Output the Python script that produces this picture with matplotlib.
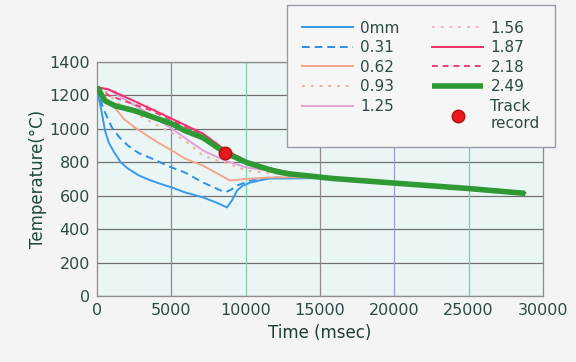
"""
Cooling curves for different thicknesses, with the track record point.
"""
import matplotlib

matplotlib.use("Agg")
import matplotlib.pyplot as plt

# --- data (time in msec, temperature in degC) ---
t_0mm = [0, 70, 336, 540, 800, 1210, 1600, 2085, 2800, 3500, 4300, 5045, 5920,
         7130, 8000, 8740, 9080, 9420, 9800, 10290, 11000, 11640, 13000, 15000,
         20000, 25000, 28800]
T_0mm = [1250, 1210, 1090, 989, 915, 852, 800, 762, 722, 695, 670, 649, 620,
         590, 560, 530, 572, 631, 660, 678, 693, 703, 703, 706, 672, 640, 612]

t_031 = [0, 400, 1010, 1500, 2085, 2800, 3700, 5045, 5920, 7130, 8610, 9000,
         9420, 10300, 11640, 13000, 15000, 20000, 25000, 28800]
T_031 = [1250, 1126, 1007, 950, 900, 855, 822, 768, 739, 679, 620, 635,
         661, 690, 709, 708, 707, 673, 641, 613]

t_062 = [0, 500, 1210, 1800, 2556, 3900, 5045, 5920, 7130, 8950, 10000, 11640,
         13000, 15000, 20000, 25000, 28800]
T_062 = [1250, 1190, 1126, 1060, 1007, 929, 870, 822, 780, 691, 700, 709,
         710, 708, 674, 642, 614]

t_093 = [0, 600, 1500, 3230, 5045, 5920, 7130, 8740, 10090, 11640, 13000, 15000,
         20000, 25000, 28800]
T_093 = [1250, 1220, 1150, 1060, 975, 929, 840, 792, 750, 735, 722, 710,
         675, 643, 615]

t_upper = [0, 800, 1800, 3500, 5045, 7130, 8610, 10090, 11640, 13000, 15000,
           20000, 25000, 28800]
T_125 = [1250, 1235, 1180, 1090, 1000, 870, 810, 768, 750, 730, 712, 676, 644, 616]
T_156 = [1250, 1240, 1200, 1130, 1065, 975, 880, 810, 765, 740, 718, 680, 646, 618]
T_187 = [1250, 1235, 1195, 1125, 1060, 971, 875, 805, 762, 738, 715, 678, 645, 617]
T_218 = [1250, 1200, 1168, 1115, 1050, 962, 868, 802, 760, 736, 714, 677, 644, 616]

t_249 = [0, 540, 1210, 2556, 3900, 5045, 5920, 7130, 8610, 10090, 11640, 12510,
         13000, 15870, 20380, 25000, 28800]
T_249 = [1250, 1168, 1138, 1108, 1066, 1030, 989, 947, 858, 798, 755, 737,
         730, 703, 673, 643, 614]

track_t = [8610]
track_T = [858]

x_ticks = [0, 5000, 10000, 15000, 20000, 25000, 30000]
y_ticks = [0, 200, 400, 600, 800, 1000, 1200, 1400]
vgrid_colors = ["#8d8aa6", "#86cfae", "#8c8c8c", "#a09cc4", "#5fd3d3"]

TXT = "#2c4a47"
plt.rcParams["font.family"] = "DejaVu Sans"

fig = plt.figure(figsize=(5.76, 3.62), dpi=100, facecolor="#f3f4f3")
ax = fig.add_axes([97 / 576, 1 - 296 / 362, (543 - 97) / 576, (296 - 62) / 362])
ax.set_facecolor("#eaf6f5")

for y in y_ticks:
    ax.axhline(y, color="#707070", lw=0.9, zorder=1)
for x, c in zip(x_ticks[1:-1], vgrid_colors):
    ax.axvline(x, color=c, lw=0.9, zorder=1)

LW = 1.4
ax.plot(t_0mm, T_0mm, color="#3b98ea", lw=LW, label="0mm", zorder=3)
ax.plot(t_031, T_031, color="#2f8ee3", lw=LW, ls=(0, (4, 2.5)), label="0.31", zorder=3)
ax.plot(t_062, T_062, color="#f5a58a", lw=LW, label="0.62", zorder=3)
ax.plot(t_093, T_093, color="#f4b096", lw=LW, ls=(0, (1.5, 3)), label="0.93", zorder=3)
ax.plot(t_upper, T_125, color="#e3a0d6", lw=LW, label="1.25", zorder=3)
ax.plot(t_upper, T_156, color="#f4b2c9", lw=LW, ls=(0, (1.5, 3)), label="1.56", zorder=3)
ax.plot(t_upper, T_187, color="#ef2f6a", lw=LW, label="1.87", zorder=3)
ax.plot(t_upper, T_218, color="#ee3f78", lw=LW, ls=(0, (3, 2.5)), label="2.18", zorder=3)
ax.plot(t_249, T_249, color="#2f9a34", lw=4, label="2.49", zorder=4,
        solid_capstyle="butt")
ax.plot(track_t, track_T, "o", color="#e8181c", mec="#b01010", ms=9,
        ls="none", label="Track\nrecord", zorder=5)

ax.set_xlim(0, 30000)
ax.set_ylim(0, 1400)
ax.set_xticks(x_ticks)
ax.set_yticks(y_ticks)
ax.tick_params(length=0, labelsize=11.5, labelcolor=TXT, pad=5)
for s in ax.spines.values():
    s.set_color("#8c8c8c")
    s.set_linewidth(0.9)

ax.set_xlabel("Time (msec)", fontsize=12, color="#1f3a3a", labelpad=4)
ax.set_ylabel("Temperature(°C)", fontsize=12, color="#1d4a3a", labelpad=2)

leg = fig.legend(loc="upper left", bbox_to_anchor=(287 / 576, 1 - 9 / 362, 268 / 576, 0.01),
                 mode="expand", ncol=2, fontsize=11, frameon=True, fancybox=False,
                 handlelength=3.3, labelspacing=0.3, borderpad=1.0,
                 handletextpad=0.5, columnspacing=1.2, borderaxespad=0)
leg.get_frame().set_facecolor("#f6f6f6")
leg.get_frame().set_edgecolor("#9a9aa8")
leg.get_frame().set_alpha(1)
for txt in leg.get_texts():
    txt.set_color(TXT)

fig.savefig("out.png", dpi=100, facecolor=fig.get_facecolor())
